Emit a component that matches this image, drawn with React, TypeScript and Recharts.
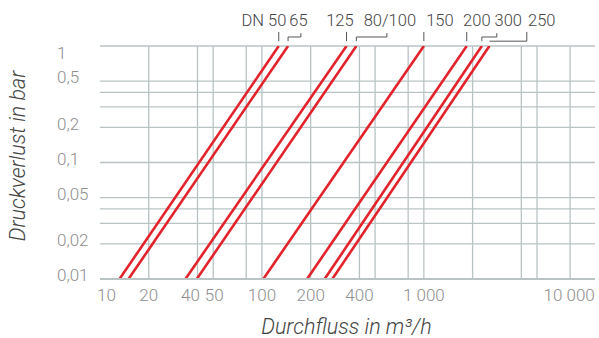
import {
  CartesianGrid,
  Line,
  LineChart,
  ReferenceDot,
  ReferenceLine,
  XAxis,
  YAxis,
} from "recharts";

// nominal sizes, in the order they are labelled on top
const sizes = ["DN 50", "65", "125", "80/100", "150", "200", "300", "250"];
// flow in m³/h where each valve curve crosses 0,01 bar and 1 bar
const flowAtLowLoss = [13.2, 15.0, 33.7, 39.6, 102, 190, 244, 272];
const flowAtHighLoss = [127, 145, 333, 383, 1000, 1840, 2280, 2540];
const lowLoss = 0.01;
const highLoss = 1;

const flowTicks = [10, 20, 40, 50, 100, 200, 400, 1000, 10000];
const flowGrid = [20, 40, 50, 80, 100, 200, 400, 500, 800, 1000, 2000, 4000, 5000, 8000];
const lossTicks = [0.01, 0.02, 0.05, 0.1, 0.2, 0.5, 1];
const lossGrid = [0.01, 0.02, 0.03, 0.04, 0.05, 0.1, 0.2, 0.3, 0.4, 0.5, 1];

// where the size labels and their leader lines sit above the plot (data units)
const labelFlow = [103, 168, 303, 617, 1256, 2124, 3323, 5350];
const labelLoss = 1.67;
const leaderPaths: [number, number][][] = [
  [[flowAtHighLoss[0], 1.1], [flowAtHighLoss[0], 1.32]],
  [[flowAtHighLoss[1], 1.1], [flowAtHighLoss[1], 1.195], [174, 1.195], [174, 1.29]],
  [[flowAtHighLoss[2], 1.1], [flowAtHighLoss[2], 1.32]],
  [[flowAtHighLoss[3], 1.1], [flowAtHighLoss[3], 1.195], [591, 1.195], [591, 1.29]],
  [[flowAtHighLoss[4], 1.1], [flowAtHighLoss[4], 1.32]],
  [[flowAtHighLoss[5], 1.1], [flowAtHighLoss[5], 1.32]],
  [[flowAtHighLoss[6], 1.1], [flowAtHighLoss[6], 1.195], [2822, 1.195], [2822, 1.29]],
  [[flowAtHighLoss[7], 1.1], [4322, 1.1], [4322, 1.32]],
];

const GRID = "#b9c3c4";
const RED = "#e3232b";
const TICK_GREY = "#8e8e8e";

const formatFlow = (v: number) => (v >= 1000 ? v.toLocaleString("en").replace(/,/g, " ") : String(v));
const formatLoss = (v: number) => String(v).replace(".", ",");

// small nudges so neighbouring labels don't collide, like in the print
const flowTickNudge: Record<number, [string, number]> = {
  10: ["start", -3],
  40: ["middle", -7],
  50: ["middle", 1],
  10000: ["end", 9],
};

function FlowTick({ x, payload }: any) {
  const v = payload.value;
  const [anchor, dx] = flowTickNudge[v] ?? ["middle", 0];
  return (
    <text x={x + dx} y={301} textAnchor={anchor} fill={TICK_GREY} fontSize={17} fontWeight={300}>
      {formatFlow(v)}
    </text>
  );
}

function LossTick({ y, payload }: any) {
  const v = payload.value;
  const shift = v === 1 ? 7 : -4;
  return (
    <text x={57} y={y + shift} dy="0.36em" textAnchor="start" fill={TICK_GREY} fontSize={17} fontWeight={300}>
      {formatLoss(v)}
    </text>
  );
}

const flowTitle = (props: any) => {
  const { x, width } = props.viewBox;
  return (
    <text x={x + width / 2 - 1} y={334} textAnchor="middle" fill="#444" fontSize={21.5} fontStyle="italic" fontWeight={300}>
      Durchfluss in m³/h
    </text>
  );
};

const lossTitle = () => {
  const cx = 25;
  const cy = 156;
  return (
    <text x={cx} y={cy} transform={`rotate(-90 ${cx} ${cy})`} textAnchor="middle" fill="#444" fontSize={21.5} fontStyle="italic" fontWeight={300}>
      Druckverlust in bar
    </text>
  );
};

export default function App() {
  return (
    <div
      style={{
        position: "absolute",
        left: 0,
        top: 0,
        width: 599,
        height: 338,
        background: "#fff",
        fontFamily: "Roboto, sans-serif",
      }}
    >
      <LineChart width={599} height={338} margin={{ top: 46, right: 4, bottom: 0, left: 0 }}>
        <CartesianGrid horizontalValues={lossGrid} verticalValues={flowGrid} stroke={GRID} strokeWidth={1.3} />

        <XAxis
          type="number"
          dataKey="q"
          scale="log"
          domain={[10, 11400]}
          allowDataOverflow
          ticks={flowTicks}
          interval={0}
          height={59}
          tickLine={false}
          axisLine={{ stroke: GRID, strokeWidth: 1.8 }}
          tick={<FlowTick />}
          label={flowTitle}
        />

        <YAxis
          type="number"
          scale="log"
          domain={[lowLoss, highLoss]}
          allowDataOverflow
          ticks={lossTicks}
          interval={0}
          width={100}
          tickLine={false}
          axisLine={false}
          tick={<LossTick />}
          label={lossTitle}
        />

        {sizes.map((s, i) => (
          <Line
            key={s}
            data={[
              { q: flowAtLowLoss[i], p: lowLoss },
              { q: flowAtHighLoss[i], p: highLoss },
            ]}
            dataKey="p"
            stroke={RED}
            strokeWidth={2.6}
            dot={false}
            activeDot={false}
            isAnimationActive={false}
          />
        ))}

        {leaderPaths.flatMap((path, i) =>
          path.slice(1).map((pt, k) => (
            <ReferenceLine
              key={`leader-${i}-${k}`}
              segment={[
                { x: path[k][0], y: path[k][1] },
                { x: pt[0], y: pt[1] },
              ]}
              ifOverflow="visible"
              stroke="#555"
              strokeWidth={1}
            />
          ))
        )}

        {sizes.map((s, i) => (
          <ReferenceDot
            key={`label-${s}`}
            x={labelFlow[i]}
            y={labelLoss}
            r={0}
            fill="none"
            stroke="none"
            ifOverflow="visible"
            label={{ value: s, position: "center", fill: "#444", fontSize: 16.5, fontWeight: 300 }}
          />
        ))}
      </LineChart>
    </div>
  );
}
